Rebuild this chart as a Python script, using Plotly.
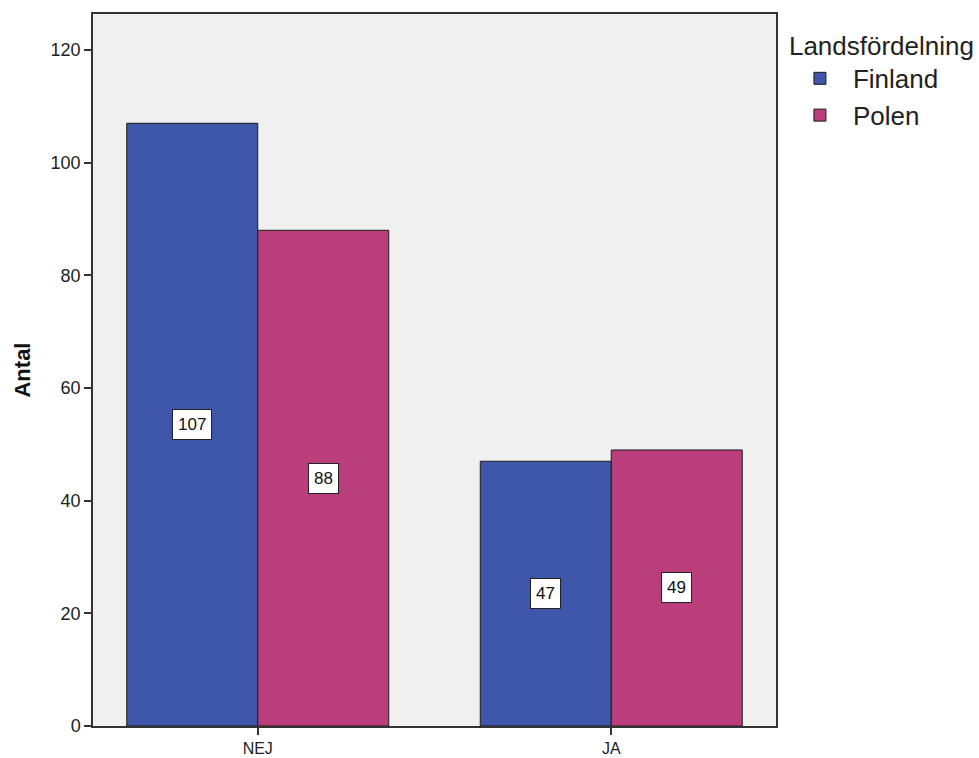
import plotly.graph_objects as go

categories = ["NEJ", "JA"]
series_names = ["Finland", "Polen"]
finland = [107, 47]
polen = [88, 49]
colors = ["#3E57AB", "#BA3E7B"]
y_ticks = [0, 20, 40, 60, 80, 100, 120]

fig = go.Figure()
for name, vals, col in zip(series_names, [finland, polen], colors):
    fig.add_trace(go.Bar(
        x=categories, y=vals, name=name,
        marker=dict(color=col, line=dict(color="#1a1a1a", width=1)),
        textposition="none",
    ))

# value labels in white boxes at mid-height
offsets = [-0.1852, 0.1852]
for off, vals in zip(offsets, [finland, polen]):
    for i, v in enumerate(vals):
        fig.add_annotation(
            x=i + off, y=v / 2, xref="x", yref="y",
            text=str(v), showarrow=False,
            font=dict(family="Arial", size=17, color="#111111"),
            bgcolor="white", bordercolor="#222222", borderwidth=1, borderpad=5,
        )

fig.update_layout(
    width=979, height=758,
    margin=dict(l=93, r=203, t=14, b=32, autoexpand=False),
    paper_bgcolor="white", plot_bgcolor="#F0F0F0",
    barmode="group", bargap=0.259, bargroupgap=0,
    font=dict(family="Arial", color="#222222"),
    legend=dict(
        title=dict(text="Landsfördelning", font=dict(size=26, color="#222222"), side="top"),
        font=dict(size=26, color="#222222"),
        x=1.016, xanchor="left", y=0.99, yanchor="top",
        traceorder="normal", itemwidth=56,
        bgcolor="rgba(0,0,0,0)", tracegroupgap=0,
    ),
    showlegend=True,
)
fig.update_xaxes(
    type="category", range=[-0.466, 1.466], automargin=False,
    showline=True, linecolor="#333333", linewidth=1.5, mirror=True,
    ticks="outside", ticklen=7, tickcolor="#333333", tickwidth=1.5,
    tickfont=dict(size=16, color="#222222"), showgrid=False,
)
fig.update_yaxes(
    range=[0, 126.4], tickvals=y_ticks, automargin=False,
    showline=True, linecolor="#333333", linewidth=1.5, mirror=True,
    ticks="outside", ticklen=7, tickcolor="#333333", tickwidth=1.5,
    tickfont=dict(size=18, color="#222222"), showgrid=False, zeroline=False,
    title=dict(text="<b>Antal</b>", font=dict(size=22, color="#111111"), standoff=14),
)

fig.write_html("out.html", config={"displayModeBar": False},
               post_script="document.body.style.margin='0';")
